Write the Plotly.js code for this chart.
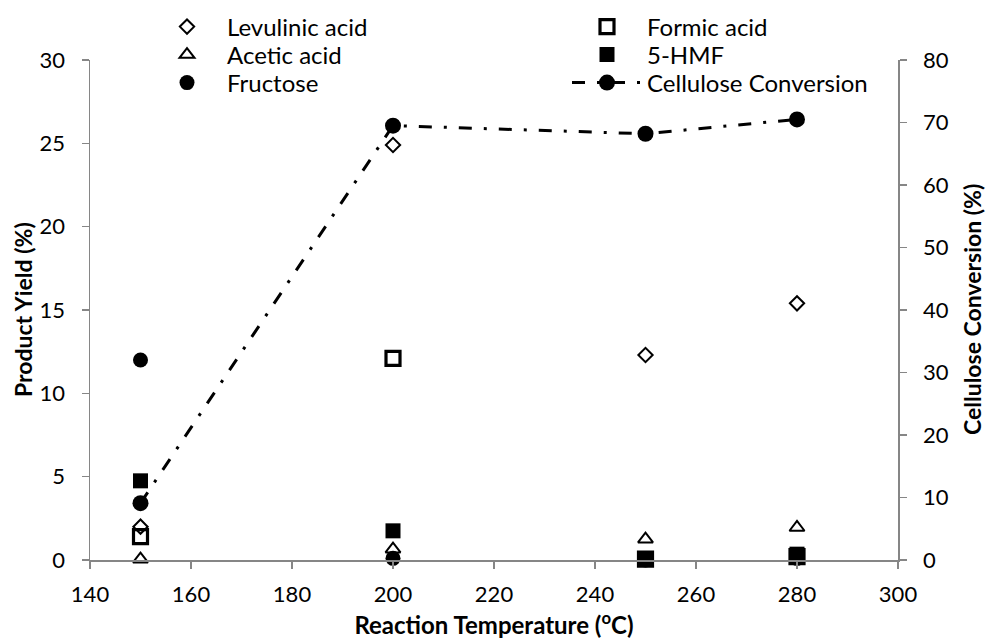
<!DOCTYPE html>
<html>
<head>
<meta charset="utf-8">
<script src="https://cdn.plot.ly/plotly-3.0.1.min.js"></script>
<style>html,body{margin:0;padding:0;background:#fff;}#chart{width:990px;height:639px;}</style>
</head>
<body>
<div id="chart"></div>
<script>
// Data
const temperatures = [150, 200, 250, 280];
const levulinicAcid = [2.0, 24.9, 12.3, 15.4];
const formicAcid = [1.4, 12.1, 0.05, 0.2];
const aceticAcid = [0.05, 0.65, 1.25, 1.95];
const hmf = [4.75, 1.75, 0.05, 0.35];
const fructose = [12.0, 0.1, 0.0, 0.1];
const celluloseConversion = [9.1, 69.5, 68.2, 70.5];

const xTicks = [140, 160, 180, 200, 220, 240, 260, 280, 300];
const yTicks = [0, 5, 10, 15, 20, 25, 30];
const y2Ticks = [0, 10, 20, 30, 40, 50, 60, 70, 80];

const xTitle = 'Reaction Temperature (<sup>o</sup>C)';
const yTitle = 'Product Yield (%)';
const y2Title = 'Cellulose Conversion (%)';

const FONT = 'Lato, "Open Sans", sans-serif';
const axisGray = '#868686';

const traces = [
  {x: temperatures, y: levulinicAcid, name: 'Levulinic acid', type: 'scatter', mode: 'markers',
   marker: {symbol: 'diamond-open', size: 11, color: '#000', line: {color: '#000', width: 2}},
   cliponaxis: false, legend: 'legend'},
  {x: temperatures, y: formicAcid, name: 'Formic acid', type: 'scatter', mode: 'markers',
   marker: {symbol: 'square-open', size: 14, color: '#000', line: {color: '#000', width: 3.2}},
   cliponaxis: false, legend: 'legend2'},
  {x: temperatures, y: aceticAcid, name: 'Acetic acid', type: 'scatter', mode: 'markers',
   marker: {symbol: 'triangle-up-open', size: 13, color: '#000', line: {color: '#000', width: 2}},
   cliponaxis: false, legend: 'legend3'},
  {x: temperatures, y: hmf, name: '5-HMF', type: 'scatter', mode: 'markers',
   marker: {symbol: 'square', size: 15, color: '#000'},
   cliponaxis: false, legend: 'legend4'},
  {x: temperatures, y: fructose, name: 'Fructose', type: 'scatter', mode: 'markers',
   marker: {symbol: 'circle', size: 15, color: '#000'},
   cliponaxis: false, legend: 'legend5'},
  {x: temperatures, y: celluloseConversion, name: 'Cellulose Conversion', type: 'scatter', mode: 'lines+markers',
   yaxis: 'y2',
   line: {color: '#000', width: 3, dash: '13px,12px,3px,12px'},
   marker: {symbol: 'circle', size: 16, color: '#000'},
   cliponaxis: false, legend: 'legend6'}
];

const col1 = 147 / 990, col2 = 567 / 990;
const row1 = 1 - 27 / 639, row2 = 1 - 55 / 639, row3 = 1 - 83 / 639;
function leg(x, y) {
  return {x: x, y: y, xref: 'container', yref: 'container', xanchor: 'left', yanchor: 'middle',
          bgcolor: 'rgba(0,0,0,0)', borderwidth: 0, itemwidth: 70,
          font: {family: FONT, size: 24, color: '#000'}};
}

const axisCommon = {
  showgrid: false, zeroline: false, showline: true, linecolor: axisGray, linewidth: 1.5,
  ticks: 'outside', ticklen: 7, tickcolor: axisGray, tickwidth: 1.5,
  tickfont: {family: FONT, size: 22, color: '#000'}
};

const titleFont = {family: FONT, size: 23, color: '#000', weight: 'bold'};

const layout = {
  width: 990, height: 639,
  margin: {l: 90, r: 92, t: 60, b: 79, autoexpand: false},
  paper_bgcolor: '#fff', plot_bgcolor: '#fff',
  font: {family: FONT, color: '#000'},
  showlegend: true,
  legend: leg(col1, row1),
  legend2: leg(col2, row1),
  legend3: leg(col1, row2),
  legend4: leg(col2, row2),
  legend5: leg(col1, row3),
  legend6: leg(col2, row3),
  xaxis: Object.assign({}, axisCommon, {
    range: [140, 300], tickvals: xTicks, ticktext: xTicks.map(String),
    ticklabelstandoff: 7,
    title: {text: xTitle, font: Object.assign({}, titleFont, {size: 24}), standoff: 4}
  }),
  yaxis: Object.assign({}, axisCommon, {
    range: [0, 30], tickvals: yTicks, ticktext: yTicks.map(String),
    ticklabelstandoff: 12
  }),
  yaxis2: Object.assign({}, axisCommon, {
    range: [0, 80], tickvals: y2Ticks, ticktext: y2Ticks.map(String),
    overlaying: 'y', side: 'right',
    ticklabelstandoff: 12
  }),
  annotations: [
    {text: yTitle, xref: 'paper', yref: 'paper', x: (23 - 90) / 808, y: 0.5,
     xanchor: 'center', yanchor: 'middle', textangle: -90, showarrow: false, font: titleFont},
    {text: y2Title, xref: 'paper', yref: 'paper', x: (972 - 90) / 808, y: 0.5,
     xanchor: 'center', yanchor: 'middle', textangle: -90, showarrow: false, font: titleFont}
  ]
};

Plotly.newPlot('chart', traces, layout, {displayModeBar: false, staticPlot: true});
</script>
</body>
</html>
